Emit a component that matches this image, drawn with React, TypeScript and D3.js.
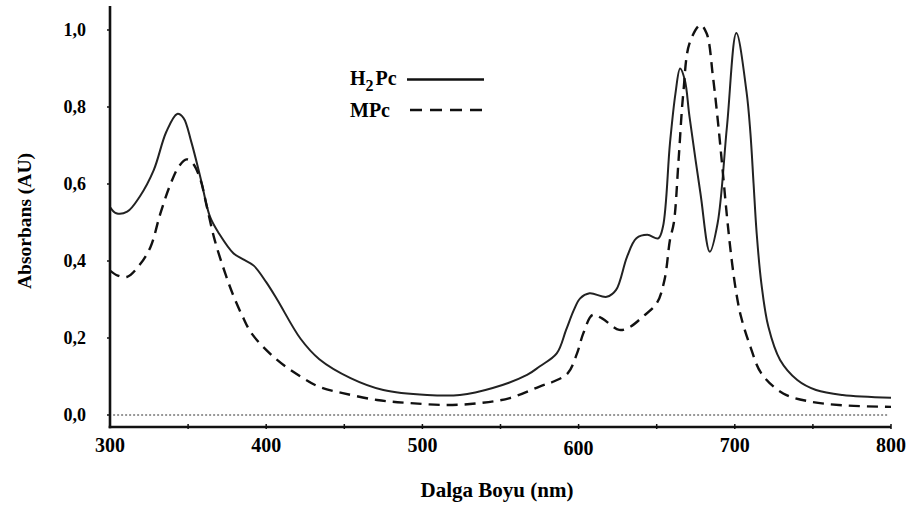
import React, { useEffect, useRef } from 'react'
import * as d3 from 'd3'

// H2Pc (solid) — wavelength (nm) and absorbance
const h2pcNm = [300, 304, 311, 319, 328, 336, 343, 347, 352, 358, 364, 370, 379, 385, 392, 400, 407, 422, 434, 454, 475, 503, 524, 545, 567, 575, 586, 592, 597, 601, 607, 618, 624, 631, 637, 644, 651, 654, 658.5, 662, 665, 668, 671, 678, 684, 689, 695, 701, 707.5, 710, 712, 714, 717, 721.5, 729, 740, 752, 769, 800]
const h2pcAbs = [0.54, 0.524, 0.528, 0.567, 0.636, 0.735, 0.782, 0.772, 0.71, 0.615, 0.515, 0.47, 0.42, 0.405, 0.388, 0.345, 0.3, 0.198, 0.145, 0.096, 0.065, 0.052, 0.052, 0.07, 0.104, 0.126, 0.16, 0.221, 0.273, 0.303, 0.316, 0.307, 0.325, 0.411, 0.459, 0.468, 0.459, 0.489, 0.706, 0.835, 0.9, 0.87, 0.775, 0.576, 0.424, 0.498, 0.75, 0.992, 0.84, 0.732, 0.602, 0.472, 0.342, 0.229, 0.143, 0.091, 0.065, 0.052, 0.045]

// MPc (dashed)
const mpcNm = [300, 305, 311, 319, 326, 332, 338, 344, 349, 353, 358, 362, 367, 374, 379, 385, 391, 407, 422, 434, 449, 471, 492, 516, 537, 556, 575, 584, 593, 599, 603, 609, 615, 626, 633, 641, 650, 655, 658.5, 661, 664, 667, 671, 678, 682, 686, 689, 692, 695, 698, 701, 704, 710, 717, 731, 748, 770, 800]
const mpcAbs = [0.375, 0.362, 0.359, 0.39, 0.437, 0.52, 0.592, 0.645, 0.664, 0.654, 0.61, 0.541, 0.455, 0.365, 0.31, 0.255, 0.21, 0.143, 0.1, 0.073, 0.057, 0.039, 0.031, 0.026, 0.031, 0.044, 0.074, 0.087, 0.108, 0.16, 0.212, 0.26, 0.251, 0.221, 0.229, 0.255, 0.29, 0.351, 0.455, 0.5, 0.662, 0.835, 0.965, 1.013, 0.991, 0.879, 0.77, 0.645, 0.515, 0.403, 0.316, 0.255, 0.177, 0.108, 0.056, 0.035, 0.025, 0.021]

const xTicks = [300, 400, 500, 600, 700, 800]
const yTicks = [0, 0.2, 0.4, 0.6, 0.8, 1.0]

const font = '"Liberation Serif", "Times New Roman", serif'

const App = () => {
  const ref = useRef<SVGSVGElement>(null)

  useEffect(() => {
    const svg = d3.select(ref.current)
    svg.selectAll('*').remove()

    const x = d3.scaleLinear().domain([300, 800]).range([110, 891])
    const y = d3.scaleLinear().domain([0, 1]).range([415, 30])
    const axisY = 427

    // zero line (dotted)
    svg.append('line')
      .attr('x1', x(302)).attr('x2', x(798))
      .attr('y1', y(0)).attr('y2', y(0))
      .attr('stroke', '#777')
      .attr('stroke-width', 1.6)
      .attr('stroke-dasharray', '2,2')

    const line = d3.line<[number, number]>()
      .x(d => x(d[0]))
      .y(d => y(d[1]))
      .curve(d3.curveCatmullRom.alpha(0.5))

    svg.append('path')
      .datum(h2pcNm.map((n, i) => [n, h2pcAbs[i]] as [number, number]))
      .attr('d', line)
      .attr('fill', 'none')
      .attr('stroke', '#222')
      .attr('stroke-width', 2)

    svg.append('path')
      .datum(mpcNm.map((n, i) => [n, mpcAbs[i]] as [number, number]))
      .attr('d', line)
      .attr('fill', 'none')
      .attr('stroke', '#111')
      .attr('stroke-width', 2.4)
      .attr('stroke-dasharray', '11,7')

    // axes
    svg.append('line')
      .attr('x1', x(300)).attr('x2', x(300))
      .attr('y1', 6).attr('y2', axisY + 1.3)
      .attr('stroke', '#111').attr('stroke-width', 2.6)
    svg.append('line')
      .attr('x1', x(300) - 1.3).attr('x2', x(800))
      .attr('y1', axisY).attr('y2', axisY)
      .attr('stroke', '#111').attr('stroke-width', 2.6)

    svg.selectAll('line.xt')
      .data(d3.range(350, 801, 50))
      .enter().append('line')
      .attr('class', 'xt')
      .attr('x1', d => x(d)).attr('x2', d => x(d))
      .attr('y1', axisY - 3).attr('y2', axisY + 2)
      .attr('stroke', '#111').attr('stroke-width', 1.5)

    svg.selectAll('line.yt')
      .data(yTicks)
      .enter().append('line')
      .attr('class', 'yt')
      .attr('x1', x(300) - 3).attr('x2', x(300))
      .attr('y1', d => y(d)).attr('y2', d => y(d))
      .attr('stroke', '#111').attr('stroke-width', 1.5)

    svg.selectAll('text.xl')
      .data(xTicks)
      .enter().append('text')
      .attr('class', 'xl')
      .attr('x', d => x(d))
      .attr('y', d => (d === 600 ? 455 : 452))
      .attr('text-anchor', 'middle')
      .attr('font-family', font)
      .attr('font-weight', 'bold')
      .attr('font-size', 20)
      .text(d => String(d))

    svg.selectAll('text.yl')
      .data(yTicks)
      .enter().append('text')
      .attr('class', 'yl')
      .attr('x', 86)
      .attr('y', d => y(d) + 5.5)
      .attr('text-anchor', 'end')
      .attr('font-family', font)
      .attr('font-weight', 'bold')
      .attr('font-size', 18)
      .text(d => d3.format('.1f')(d).replace('.', ','))

    svg.append('text')
      .attr('x', 497).attr('y', 497)
      .attr('text-anchor', 'middle')
      .attr('font-family', font)
      .attr('font-weight', 'bold')
      .attr('font-size', 21)
      .text('Dalga Boyu (nm)')

    svg.append('text')
      .attr('transform', 'translate(31,221) rotate(-90)')
      .attr('text-anchor', 'middle')
      .attr('font-family', font)
      .attr('font-weight', 'bold')
      .attr('font-size', 19.5)
      .text('Absorbans (AU)')

    // legend
    const lg = svg.append('g').attr('font-family', font).attr('font-weight', 'bold').attr('font-size', 20)
    const t1 = lg.append('text').attr('x', 350).attr('y', 85)
    t1.append('tspan').text('H')
    t1.append('tspan').attr('dy', 6).attr('font-size', 16).text('2')
    t1.append('tspan').attr('dy', -6).attr('dx', 2).text('Pc')
    lg.append('line')
      .attr('x1', 407).attr('x2', 484).attr('y1', 79.5).attr('y2', 79.5)
      .attr('stroke', '#111').attr('stroke-width', 2.4)
    lg.append('text').attr('x', 350).attr('y', 117).text('MPc')
    lg.append('line')
      .attr('x1', 410).attr('x2', 484).attr('y1', 110).attr('y2', 110)
      .attr('stroke', '#111').attr('stroke-width', 2.4)
      .attr('stroke-dasharray', '12,8')
  }, [])

  return (
    <svg
      ref={ref}
      width={907}
      height={506}
      style={{ position: 'absolute', left: 0, top: 0, background: '#fff' }}
    />
  )
}

export default App
